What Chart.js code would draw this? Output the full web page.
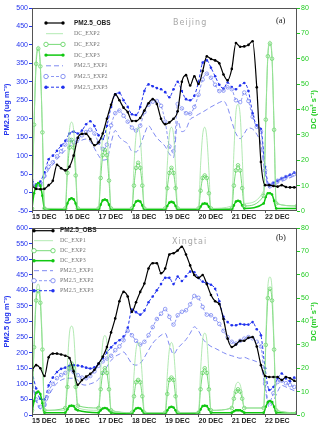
<!DOCTYPE html>
<html lang="en">
<head>
<meta charset="UTF-8">
<title>PM2.5 and DC - Beijing / Xingtai</title>
<script src="https://cdn.jsdelivr.net/npm/chart.js"></script>
<style>
    html, body { margin: 0; padding: 0; background: #fff; }
    #wrap { position: relative; width: 320px; height: 429px; }
    canvas { position: absolute; left: 0; }
    #topChart { top: 0; }
    #bottomChart { top: 222px; }
</style>
</head>
<body>
<div id="wrap">
    <canvas id="topChart" width="320" height="222"></canvas>
    <canvas id="bottomChart" width="320" height="207"></canvas>
</div>

<script>
    // x axis: hours since 15 DEC 00
    const dayLabels = ['15 DEC', '16 DEC', '17 DEC', '18 DEC', '19 DEC', '20 DEC', '21 DEC', '22 DEC'];

    const pmHours = [0, 3, 6, 9, 12, 15, 18, 21, 24, 27, 30, 33, 36, 39, 42, 45, 48, 51, 54, 57,
        60, 63, 66, 69, 72, 75, 78, 81, 84, 87, 90, 93, 96, 99, 102, 105, 108, 111, 114, 117,
        120, 123, 126, 129, 132, 135, 138, 141, 144, 147, 150, 153, 156, 159, 162, 165, 168, 171, 174, 177,
        180, 183, 186, 189, 192];

    const dcHours = [0, 1.5, 3, 4.5, 6, 7.5, 9, 24, 25.5, 27, 28.5, 30, 31.5, 33,
        48, 49.5, 51, 52.5, 54, 55.5, 57, 72, 73.5, 75, 76.5, 78, 79.5, 81,
        96, 97.5, 99, 100.5, 102, 103.5, 105, 120, 121.5, 123, 124.5, 126, 127.5, 129,
        144, 145.5, 147, 148.5, 150, 151.5, 153, 167, 168.5, 170, 171.5, 173, 174.5, 176, 191];

    // (a) Beijing
    const bjObs = [18, 10, 9, 10, 20, 32, 75, 66, 60, 70, 100, 148, 159, 159, 145, 128, 136, 160, 200, 238,
        266, 250, 230, 218, 194, 194, 202, 222, 242, 253, 240, 200, 185, 190, 200, 220, 300, 318, 290, 315,
        294, 329, 369, 362, 358, 350, 320, 304, 335, 405, 395, 396, 400, 410, 285, 83, 20, 20, 18, 16,
        20, 15, 14, 14, 14];
    const bjExp1 = [22, 16, 18, 40, 62, 76, 90, 102, 115, 125, 130, 136, 142, 145, 138, 120, 100, 88, 90, 135,
        168, 150, 140, 132, 112, 110, 127, 158, 181, 165, 148, 137, 125, 105, 95, 194, 165, 172, 198, 205,
        212, 218, 225, 232, 238, 244, 248, 230, 192, 160, 146, 160, 175, 172, 158, 130, 50, 12, 18, 25,
        30, 35, 40, 45, 48];
    const bjExp2 = [25, 18, 20, 45, 70, 82, 98, 112, 130, 143, 136, 145, 155, 164, 170, 160, 135, 118, 130, 182,
        215, 222, 208, 192, 176, 168, 181, 218, 238, 246, 248, 235, 192, 125, 112, 240, 228, 215, 214, 232,
        265, 306, 322, 311, 292, 275, 276, 285, 280, 250, 245, 271, 248, 205, 178, 165, 60, 20, 25, 32,
        37, 42, 46, 50, 52];
    const bjExp3 = [35, 22, 30, 55, 90, 100, 113, 127, 140, 160, 165, 160, 168, 185, 193, 180, 155, 145, 181, 232,
        266, 270, 250, 232, 212, 210, 232, 275, 293, 288, 283, 280, 272, 258, 280, 300, 275, 253, 250, 262,
        300, 352, 358, 338, 315, 292, 282, 298, 286, 280, 290, 297, 275, 215, 182, 172, 70, 20, 26, 32,
        38, 43, 48, 54, 58];
    const bjDc1 = [1, 35, 60, 65, 58, 32, 1, 1, 19, 32, 35, 32, 18, 1, 1, 18, 30, 33, 30, 17, 1,
        1, 18, 30, 33, 29, 16, 1, 1, 18, 30, 33, 30, 17, 1, 1, 18, 30, 33, 29, 16, 1,
        2, 23, 39, 42, 38, 22, 3, 8, 37, 62, 67, 61, 33, 3, 2];
    const bjDc2 = [1, 34, 58, 64, 57, 31, 1, 1, 15, 25, 28, 25, 14, 1, 1, 13, 22, 24, 22, 12, 1,
        1, 10, 17, 19, 17, 10, 1, 1, 9, 15, 17, 15, 9, 1, 1, 8, 13, 14, 13, 7, 1,
        1, 10, 16, 18, 16, 9, 2, 6, 36, 61, 66, 60, 32, 3, 2];
    const bjDc3 = [1, 7, 10, 11, 10, 6, 1, 0.5, 3, 4.6, 5, 4.6, 3, 0.5, 0.5, 2.5, 4.2, 4.5, 4.2, 2.5, 0.5,
        0.5, 2.2, 3.7, 4, 3.7, 2.2, 0.5, 0.5, 2, 3.3, 3.6, 3.3, 2, 0.5, 0.5, 1.7, 2.8, 3, 2.8, 1.7, 0.5,
        0.5, 2.2, 3.7, 4, 3.7, 2.2, 1, 3, 5.5, 7, 7, 6.5, 4, 1, 1];

    // (b) Xingtai
    const xtObs = [143, 160, 150, 125, 185, 197, 197, 194, 190, 183, 140, 97, 112, 123, 132, 145, 165, 187, 218, 265,
        310, 365, 395, 380, 331, 362, 395, 422, 470, 487, 487, 455, 470, 515, 519, 528, 540, 515, 480, 449,
        440, 449, 420, 385, 365, 356, 308, 245, 218, 226, 238, 238, 248, 250, 220, 160, 125, 122, 122, 122,
        112, 122, 118, 110, 106];
    const xtExp1 = [105, 45, 20, 25, 60, 85, 102, 112, 117, 118, 118, 112, 98, 96, 100, 105, 115, 135, 155, 175,
        188, 195, 202, 185, 165, 160, 166, 185, 208, 230, 245, 256, 262, 225, 195, 214, 228, 242, 262, 283,
        270, 245, 230, 220, 214, 207, 200, 194, 190, 186, 182, 185, 180, 176, 171, 162, 85, 25, 45, 75,
        95, 90, 84, 78, 73];
    const xtExp2 = [110, 50, 26, 32, 75, 100, 118, 128, 135, 146, 138, 128, 120, 118, 125, 140, 158, 172, 181, 190,
        208, 220, 240, 270, 256, 238, 226, 235, 256, 282, 308, 325, 340, 315, 290, 320, 331, 336, 355, 382,
        376, 347, 322, 320, 308, 292, 270, 250, 235, 229, 238, 245, 250, 246, 235, 220, 100, 41, 70, 106,
        110, 102, 96, 90, 84];
    const xtExp3 = [140, 85, 52, 50, 95, 120, 138, 148, 152, 158, 160, 159, 156, 152, 149, 153, 165, 182, 200, 217,
        230, 240, 252, 280, 338, 330, 322, 335, 362, 380, 400, 420, 440, 440, 420, 444, 430, 445, 460, 458,
        440, 428, 423, 418, 405, 365, 315, 298, 288, 288, 292, 290, 290, 298, 275, 256, 150, 80, 90, 117,
        133, 117, 108, 120, 106];
    const xtDc1 = [2, 31, 52, 56, 51, 30, 2, 2, 21, 35, 38, 35, 20, 3, 2, 19, 31, 34, 31, 18, 2,
        1, 17, 28, 31, 28, 16, 1, 1, 17, 28, 31, 28, 16, 1, 1, 19, 32, 35, 32, 18, 2,
        3, 9, 13, 14, 13, 9, 3, 3, 33, 55, 59, 54, 30, 2, 1];
    const xtDc2 = [2, 29, 49, 53, 48, 28, 2, 3, 12, 20, 22, 20, 12, 4, 3, 11, 18, 20, 18, 11, 2,
        1, 8, 14, 15, 14, 8, 1, 1, 9, 15, 16, 15, 8, 1, 1, 11, 18, 20, 18, 11, 2,
        3, 7, 10, 11, 10, 7, 3, 3, 30, 50, 54, 49, 28, 2, 1];
    const xtDc3 = [1, 6, 9.5, 10, 9, 5, 1, 1, 2.5, 3.8, 4, 3.8, 2.5, 2, 1, 2, 2.8, 3, 2.8, 2, 1,
        0.5, 1.8, 2.8, 3, 2.8, 1.8, 0.5, 0.5, 2, 3.2, 3.5, 3.2, 2, 0.5, 1, 2.4, 3.8, 4, 3.8, 2.4, 1,
        1, 1.6, 2, 2, 2, 1.6, 1, 1, 3.5, 5.5, 6, 5.5, 3.5, 1, 1];

    const topLegend = ['PM2.5_OBS', 'DC_EXP2', 'DC_EXP2', 'DC_EXP3', 'PM2.5_EXP1', 'PM2.5_EXP2', 'PM2.5_EXP3'];
    const bottomLegend = ['PM2.5_OBS', 'DC_EXP1', 'DC_EXP2', 'DC_EXP3', 'PM2.5_EXP1', 'PM2.5_EXP2', 'PM2.5_EXP3'];

    const BLUE = '#2233ee';
    const LIGHT_BLUE = '#6f7cf0';
    const GREEN = '#22cc22';

    function pairs(xs, ys) {
        return xs.map((x, i) => ({ x: x, y: ys[i] }));
    }

    function makeDatasets(names, obs, exp1, exp2, exp3, dc1, dc2, dc3) {
        return [
            { label: names[0], data: pairs(pmHours, obs), yAxisID: 'y', order: 0,
              borderColor: '#000', backgroundColor: '#000', borderWidth: 1.2,
              pointRadius: 1.3, pointBorderWidth: 0 },
            { label: names[1], data: pairs(dcHours, dc1), yAxisID: 'dc', order: 1,
              borderColor: '#9ee39e', borderWidth: 0.8, pointRadius: 0 },
            { label: names[2], data: pairs(dcHours, dc2), yAxisID: 'dc', order: 1,
              borderColor: '#55d055', backgroundColor: 'rgba(0,0,0,0)', borderWidth: 0.8,
              pointRadius: 1.8, pointBorderWidth: 0.7 },
            { label: names[3], data: pairs(dcHours, dc3), yAxisID: 'dc', order: 1,
              borderColor: '#10c810', backgroundColor: '#10c810', borderWidth: 1.5,
              pointRadius: 1.3, pointBorderWidth: 0 },
            { label: names[4], data: pairs(pmHours, exp1), yAxisID: 'y', order: 2,
              borderColor: LIGHT_BLUE, borderWidth: 0.9, borderDash: [5, 3], pointRadius: 0 },
            { label: names[5], data: pairs(pmHours, exp2), yAxisID: 'y', order: 2,
              borderColor: LIGHT_BLUE, backgroundColor: 'rgba(0,0,0,0)', borderWidth: 0.8, borderDash: [3, 2],
              pointRadius: 1.8, pointBorderWidth: 0.7 },
            { label: names[6], data: pairs(pmHours, exp3), yAxisID: 'y', order: 2,
              borderColor: BLUE, backgroundColor: BLUE, borderWidth: 1, borderDash: [3, 2],
              pointRadius: 1.3, pointBorderWidth: 0 }
        ];
    }

    // frame, legend, station name, panel tag, rotated axis titles
    const panelDecor = {
        id: 'panelDecor',
        afterDatasetsDraw(chart, args, opts) {
            const ctx = chart.ctx;
            const a = chart.chartArea;
            ctx.save();
            ctx.strokeStyle = '#555';
            ctx.lineWidth = 1;
            ctx.strokeRect(Math.round(a.left) + 0.5, Math.round(a.top) + 0.5,
                Math.round(a.width) - 1, Math.round(a.height) - 1);

            const lg = opts.legend;
            chart.data.datasets.forEach((ds, i) => {
                const y = lg.y0 + i * lg.dy;
                ctx.beginPath();
                ctx.setLineDash(ds.borderDash || []);
                ctx.strokeStyle = ds.borderColor;
                ctx.lineWidth = ds.borderWidth;
                ctx.moveTo(lg.x1, y);
                ctx.lineTo(lg.x2, y);
                ctx.stroke();
                ctx.setLineDash([]);
                if (ds.pointRadius > 0) {
                    [lg.x1, lg.x2].forEach(px => {
                        ctx.beginPath();
                        ctx.arc(px, y, ds.pointRadius + 0.4, 0, Math.PI * 2);
                        if (ds.pointBorderWidth > 0) {
                            ctx.fillStyle = '#fff';
                            ctx.fill();
                            ctx.lineWidth = 0.8;
                            ctx.strokeStyle = ds.borderColor;
                            ctx.stroke();
                        } else {
                            ctx.fillStyle = ds.backgroundColor;
                            ctx.fill();
                        }
                    });
                }
                ctx.textBaseline = 'middle';
                ctx.textAlign = 'left';
                if (i === 0) {
                    ctx.font = 'bold 6.5px "Liberation Sans", Arial, sans-serif';
                    ctx.fillStyle = '#222';
                } else {
                    ctx.font = '6px "Liberation Serif", "Times New Roman", serif';
                    ctx.fillStyle = '#777';
                }
                ctx.fillText(ds.label, lg.tx, y);
            });

            ctx.font = '8px "DejaVu Sans", sans-serif';
            ctx.fillStyle = '#a8a8a8';
            ctx.letterSpacing = '1px';
            ctx.textBaseline = 'middle';
            ctx.fillText(opts.name, opts.nameX, opts.nameY);
            ctx.letterSpacing = '0px';

            ctx.font = '8.5px "Liberation Serif", serif';
            ctx.fillStyle = '#222';
            ctx.fillText(opts.tag, opts.tagX, opts.tagY);

            const mid = (a.top + a.bottom) / 2;
            ctx.font = 'bold 7.5px "Liberation Sans", Arial, sans-serif';
            ctx.textAlign = 'center';
            ctx.save();
            ctx.translate(7, mid);
            ctx.rotate(-Math.PI / 2);
            ctx.fillStyle = BLUE;
            ctx.fillText('PM2.5 (ug m\u207B\u00B3)', 0, 0);
            ctx.restore();
            ctx.save();
            ctx.translate(314, mid);
            ctx.rotate(-Math.PI / 2);
            ctx.fillStyle = GREEN;
            ctx.fillText('DC (m\u00B2 s\u207B\u00B9)', 0, 0);
            ctx.restore();
            ctx.restore();
        }
    };

    function makeChart(canvasId, datasets, yMin, yMax, padTop, xHeight, decor) {
        const ctx = document.getElementById(canvasId).getContext('2d');
        return new Chart(ctx, {
            type: 'line',
            data: { datasets: datasets },
            plugins: [panelDecor],
            options: {
                responsive: false,
                animation: false,
                events: [],
                layout: { padding: { top: padTop, left: 0, right: 0, bottom: 0 } },
                elements: { line: { tension: 0.3, cubicInterpolationMode: 'monotone' } },
                plugins: {
                    legend: { display: false },
                    tooltip: { enabled: false },
                    panelDecor: decor
                },
                scales: {
                    x: {
                        type: 'linear',
                        min: 0,
                        max: 191,
                        afterFit: s => { s.height = xHeight; },
                        border: { display: false },
                        grid: { drawOnChartArea: false, tickLength: 2, color: '#555' },
                        ticks: {
                            stepSize: 24,
                            includeBounds: false,
                            autoSkip: false,
                            maxRotation: 0,
                            align: 'start',
                            padding: 0,
                            color: '#222',
                            font: { size: 7, weight: 'bold', family: '"Liberation Sans", Arial, sans-serif' },
                            callback: v => dayLabels[v / 24] || ''
                        }
                    },
                    y: {
                        position: 'left',
                        min: yMin,
                        max: yMax,
                        afterFit: s => { s.width = 32; },
                        border: { display: false },
                        grid: { drawOnChartArea: false, tickLength: 3, color: BLUE },
                        ticks: {
                            stepSize: 50,
                            autoSkip: false,
                            padding: 1,
                            color: BLUE,
                            font: { size: 7, family: '"Liberation Sans", Arial, sans-serif' }
                        }
                    },
                    dc: {
                        position: 'right',
                        min: 0,
                        max: 80,
                        afterFit: s => { s.width = 23; },
                        border: { display: false },
                        grid: { drawOnChartArea: false, tickLength: 3, color: GREEN },
                        ticks: {
                            stepSize: 10,
                            autoSkip: false,
                            padding: 1,
                            color: GREEN,
                            font: { size: 7, family: '"Liberation Sans", Arial, sans-serif' }
                        }
                    }
                }
            }
        });
    }

    makeChart('topChart',
        makeDatasets(topLegend, bjObs, bjExp1, bjExp2, bjExp3, bjDc1, bjDc2, bjDc3),
        -50, 500, 8, 11,
        { name: 'Beijing', nameX: 173, nameY: 23, tag: '(a)', tagX: 276, tagY: 21,
          legend: { x1: 46, x2: 63, tx: 74, y0: 23, dy: 10.7 } });

    makeChart('bottomChart',
        makeDatasets(bottomLegend, xtObs, xtExp1, xtExp2, xtExp3, xtDc1, xtDc2, xtDc3),
        0, 600, 6, 14,
        { name: 'Xingtai', nameX: 172, nameY: 20, tag: '(b)', tagX: 276, tagY: 16,
          legend: { x1: 34, x2: 53, tx: 60, y0: 8.7, dy: 10 } });
</script>
</body>
</html>
